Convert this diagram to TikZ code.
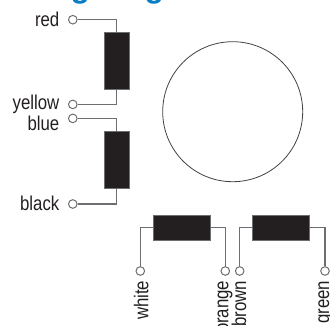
\documentclass[tikz,border=0pt]{standalone}
\usepackage{fontspec}
\setmainfont{Liberation Sans}
\definecolor{coil}{HTML}{231F20}
\definecolor{wire}{HTML}{6D6E71}
\definecolor{head}{HTML}{0A7CC4}
\tikzset{
  px/.style={x=1pt,y=-1pt},
  coilbox/.style={draw=wire,line width=0.5pt,fill=coil,inner sep=0pt,anchor=center},
  term/.style={circle,draw=wire,line width=1pt,fill=white,minimum size=8.6pt,inner sep=0pt},
  wirepath/.style={draw=wire,line width=1.1pt},
  lab/.style={font=\fontsize{20}{21}\selectfont,text=coil,inner sep=0pt,anchor=base east,xscale=0.84},
  labv/.style={font=\fontsize{20}{21}\selectfont,text=coil,inner sep=0pt,rotate=90,anchor=base east,xscale=0.84}
}
\begin{document}
\begin{tikzpicture}[px]
\useasboundingbox (0,0) rectangle (330,325);
\begin{scope}
\clip (0,0) rectangle (330,325);
\node[font=\fontsize{31.7}{32}\selectfont\bfseries,text=head,inner sep=0pt,anchor=base west] (title) at (-8.5,-3) {Wiring diagram};
\end{scope}
% motor
\node[circle,draw=coil!85,line width=0.8pt,minimum size=140pt,inner sep=0pt] (motor) at (232.7,111.7) {};
% coils
\node[coilbox,minimum width=25pt,minimum height=57pt] (c1) at (116.5,60.8) {};
\node[coilbox,minimum width=25pt,minimum height=57pt] (c2) at (116.5,160) {};
\node[coilbox,minimum width=57pt,minimum height=25pt] (c3) at (181.7,227.5) {};
\node[coilbox,minimum width=57pt,minimum height=25pt] (c4) at (280.8,227.5) {};
% terminals
\node[term] (tred) at (72.8,19.7) {};
\node[term] (tyellow) at (72.8,104.4) {};
\node[term] (tblue) at (72.8,118.4) {};
\node[term] (tblack) at (72.8,204) {};
\node[term] (twhite) at (140.3,271) {};
\node[term] (torange) at (225.3,271) {};
\node[term] (tbrown) at (239.7,271) {};
\node[term] (tgreen) at (325,271) {};
% wires
\draw[wirepath] (tred) -| (c1);
\draw[wirepath] (tyellow) -| (c1);
\draw[wirepath] (tblue) -| (c2);
\draw[wirepath] (tblack) -| (c2);
\draw[wirepath] (twhite) |- (c3);
\draw[wirepath] (torange) |- (c3);
\draw[wirepath] (tbrown) |- (c4);
\draw[wirepath] (tgreen) |- (c4);
% labels
\node[lab] (lred) at (59.5,26.7) {red};
\node[lab] (lyellow) at (59.5,109) {yellow};
\node[lab] (lblue) at (59.5,130.7) {blue};
\node[lab] (lblack) at (59.5,210.7) {black};
\node[labv] (lwhite) at (148.3,280.5) {white};
\node[labv] (lorange) at (228.3,280.5) {orange};
\node[labv] (lbrown) at (246,280.5) {brown};
\node[labv] (lgreen) at (329,280.5) {green};
\end{tikzpicture}
\end{document}
